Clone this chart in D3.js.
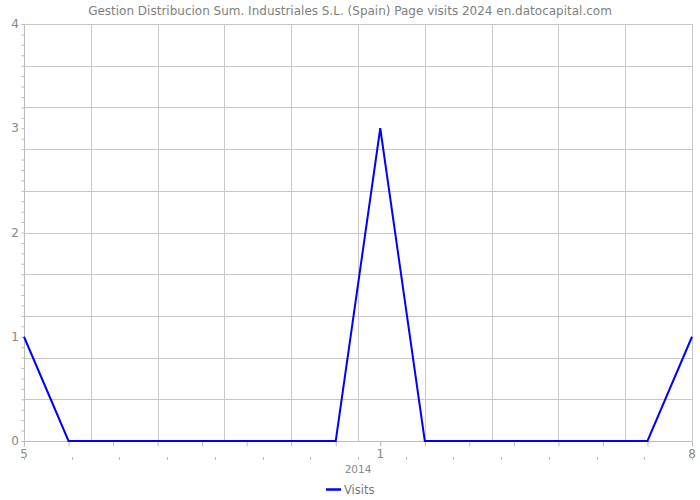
<!DOCTYPE html>
<html><head><meta charset="utf-8">
<script src="https://cdn.jsdelivr.net/npm/d3@7"></script>
<style>body{margin:0;background:#fff}svg{display:block}</style>
</head><body>
<script>
const title = "Gestion Distribucion Sum. Industriales S.L. (Spain) Page visits 2024 en.datocapital.com";
const months = ["5","6","7","8","9","10","11","12","1","2","3","4","5","6","7","8"];
const visits = [1,0,0,0,0,0,0,0,3,0,0,0,0,0,0,1];
const shownLabels = ["5","1","8"];
const shownIdx = [0,8,15];
const yearLabel = "2014";
const yTickLabels = [0,1,2,3,4];
const seriesName = "Visits";

const W=700,H=500, L=24, R=692, T=24, B=441;
const svg=d3.select("body").append("svg").attr("width",W).attr("height",H);
const x=d3.scaleLinear().domain([0,months.length-1]).range([L,R]);
const y=d3.scaleLinear().domain([0,4]).range([B,T]);
const grid="#c8c8c8", axisC="#bbbbbb", txt="#888";
const font="'DejaVu Sans', sans-serif";

svg.append("text").attr("x",350).attr("y",15).attr("text-anchor","middle")
  .attr("font-family",font).attr("font-size",12).attr("fill","#808080").text(title);

// horizontal gridlines
const hg=d3.range(0,4.0001,0.4);
svg.append("g").selectAll("line").data(hg).join("line")
  .attr("x1",L).attr("x2",R).attr("y1",d=>Math.round(y(d))+0.5).attr("y2",d=>Math.round(y(d))+0.5)
  .attr("stroke",grid).attr("stroke-width",1);
// vertical gridlines
const vg=d3.range(0,15.0001,1.5);
svg.append("g").selectAll("line").data(vg).join("line")
  .attr("y1",T).attr("y2",B).attr("x1",d=>Math.round(x(d))+0.5).attr("x2",d=>Math.round(x(d))+0.5)
  .attr("stroke",grid).attr("stroke-width",1);

// y axis
const yAxis=d3.axisLeft(y).tickValues(d3.range(0,4.0001,0.1)).tickSize(3).tickFormat("");
const gy=svg.append("g").attr("transform",`translate(${L+0.5},0)`).call(yAxis);
gy.selectAll("line,path").attr("stroke",axisC);
gy.select("path").attr("d",`M0,${T}V${B}`);
svg.append("g").selectAll("text").data(yTickLabels).join("text")
  .attr("x",L-5).attr("y",d=>y(d)+4).attr("text-anchor","end")
  .attr("font-family",font).attr("font-size",12).attr("fill",txt).text(d=>d);

// x axis
const xAxis=d3.axisBottom(x).tickValues(d3.range(0,months.length)).tickSize(5).tickFormat("");
const gx=svg.append("g").attr("transform",`translate(0,${B+0.5})`).call(xAxis);
gx.selectAll("line,path").attr("stroke",axisC);
gx.select("path").attr("d",`M${L},0H${R}`);
svg.append("g").selectAll("text").data(shownIdx).join("text")
  .attr("x",d=>x(d)).attr("y",B+17).attr("text-anchor","middle")
  .attr("font-family",font).attr("font-size",12).attr("fill",txt).text((d,i)=>shownLabels[i]);
// secondary tick row
const x2=d3.scaleLinear().domain([0,14]).range([L,R]);
svg.append("g").selectAll("line").data(d3.range(0,15)).join("line")
  .attr("x1",d=>Math.round(x2(d))+0.5).attr("x2",d=>Math.round(x2(d))+0.5)
  .attr("y1",457).attr("y2",460).attr("stroke",axisC);
svg.append("text").attr("x",358).attr("y",473).attr("text-anchor","middle")
  .attr("font-family",font).attr("font-size",10.5).attr("fill",txt).text(yearLabel);

// line
svg.append("path").datum(visits)
  .attr("d",d3.line().x((d,i)=>x(i)).y(d=>y(d)))
  .attr("fill","none").attr("stroke","#0000ff").attr("stroke-width",2);

// legend
svg.append("line").attr("x1",326).attr("x2",341).attr("y1",489.5).attr("y2",489.5)
  .attr("stroke","#0000ff").attr("stroke-width",2.5);
svg.append("text").attr("x",344).attr("y",494).attr("font-family",font)
  .attr("font-size",11.5).attr("fill","#777").text(seriesName);
</script>
</body></html>
